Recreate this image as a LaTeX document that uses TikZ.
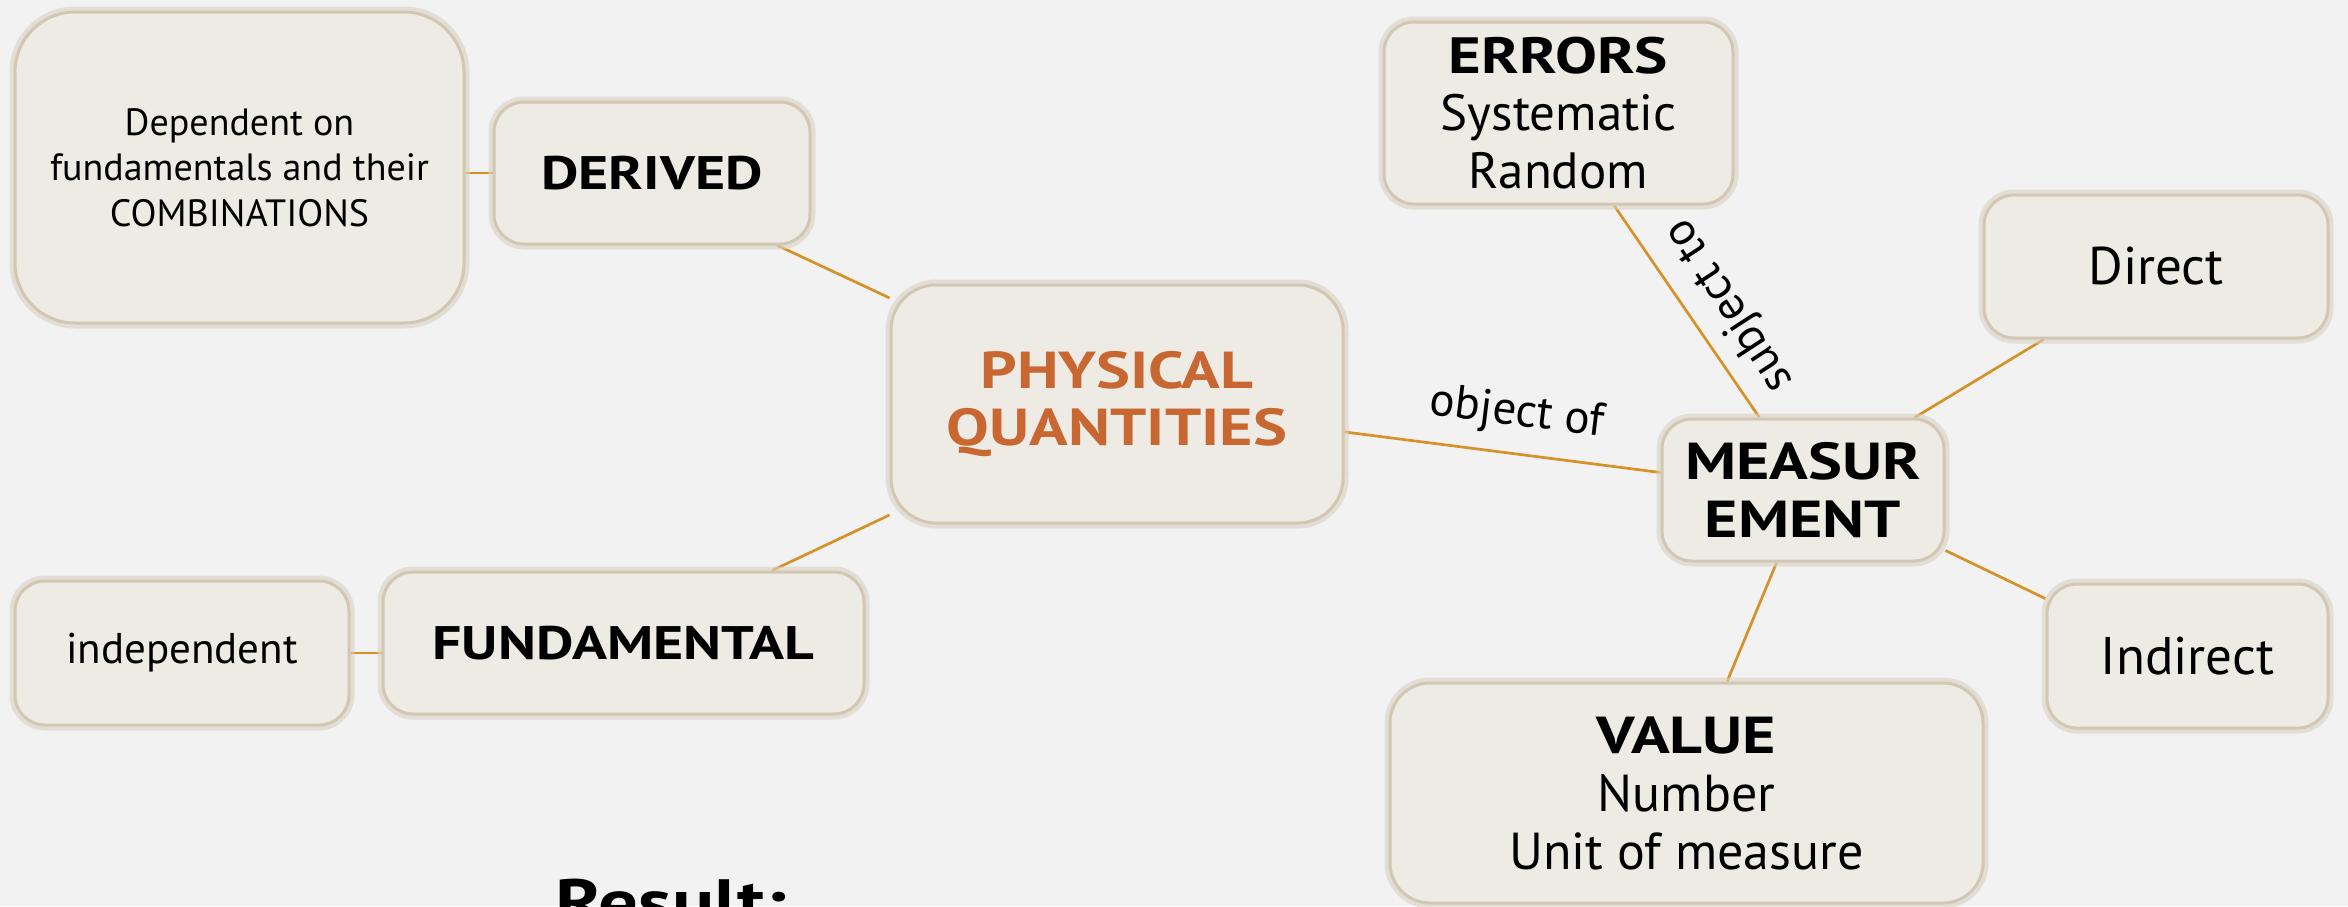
\documentclass[tikz,border=0pt]{standalone}
\usepackage{fontspec}
\setmainfont{PT Sans}[BoldFeatures={FakeStretch=1.23}]
\usetikzlibrary{calc,backgrounds}
\definecolor{bg}{RGB}{242,242,242}
\definecolor{boxfill}{RGB}{238,235,228}
\definecolor{boxedge}{RGB}{210,199,179}
\definecolor{link}{RGB}{214,146,40}
\definecolor{titlec}{RGB}{201,103,50}
\tikzset{
  card/.style={rectangle, rounded corners=#1, fill=boxfill, draw=boxedge,
    line width=3pt, preaction={draw=boxedge!75!bg, line width=11pt, opacity=0.6},
    align=center, inner sep=0pt},
  card/.default=30pt,
  conn/.style={draw=link, line width=2.7pt},
  lbl/.style={font=\fontsize{47}{50}\selectfont, inner sep=0pt},
}
\begin{document}
\begin{tikzpicture}[x=1pt,y=-1pt]
\useasboundingbox (0,0) rectangle (2348,906);
\clip (0,0) rectangle (2348,906);

\node[card=60pt, minimum width=449pt, minimum height=311pt,
  font=\fontsize{38}{45.7}\selectfont] (dep) at (239.5,167.5)
  {Dependent on\\fundamentals and their\\COMBINATIONS};
\node[card, minimum width=316pt, minimum height=142pt,
  font=\fontsize{47}{56}\selectfont\bfseries] (der) at (652,173) {DERIVED};
\node[card=45pt, minimum width=452pt, minimum height=238pt,
  font=\fontsize{52}{57}\selectfont\bfseries, text=titlec] (pq) at (1117,404)
  {PHYSICAL\\QUANTITIES};
\node[card, minimum width=334pt, minimum height=144pt,
  font=\fontsize{43}{50}\selectfont] (ind) at (182,653) {independent};
\node[card, minimum width=481pt, minimum height=142pt,
  font=\fontsize{47}{56}\selectfont\bfseries] (fun) at (623.5,643) {FUNDAMENTAL};
\node[card, minimum width=349pt, minimum height=182pt,
  font=\fontsize{51}{57.7}\selectfont] (err) at (1558.5,113)
  {\textbf{ERRORS}\\Systematic\\Random};
\node[card, minimum width=344pt, minimum height=143pt,
  font=\fontsize{53}{58}\selectfont] (dir) at (2156,266.5) {Direct};
\node[card, minimum width=282pt, minimum height=142pt,
  font=\fontsize{52}{58}\selectfont\bfseries] (mea) at (1803,490) {MEASUR\\EMENT};
\node[card, minimum width=281pt, minimum height=144pt,
  font=\fontsize{53}{58}\selectfont] (indr) at (2187.5,656) {Indirect};
\node[card=40pt, minimum width=593pt, minimum height=220pt,
  font=\fontsize{52}{58}\selectfont] (val) at (1686.5,793)
  {\textbf{VALUE}\\Number\\Unit of measure};

\node[anchor=base west, inner sep=0pt, font=\fontsize{64}{70}\selectfont\bfseries]
  (res) at (555,924) {Result:};

\begin{scope}[on background layer]
  \fill[bg] (0,0) rectangle (2348,906);
  \draw[conn] (der.west) -- (der.west -| dep.east);
  \draw[conn] (der.-30) -- (pq.155);
  \draw[conn] (fun.26) -- (pq.206);
  \draw[conn] (ind.east) -- (ind.east -| fun.west);
  \draw[conn] (pq.-7) -- (mea.173);
  \draw[conn] (err.-59) -- (mea.121);
  \draw[conn] (dir.213) -- (mea.33);
  \draw[conn] (indr.158) -- (mea.-23);
  \draw[conn] (mea.250) -- (val.70);
\end{scope}

\node[lbl, rotate=-7] (objof) at (1517,414) {object of};
\node[lbl, rotate=123] (subjto) at (1730,305) {subject to};
\end{tikzpicture}
\end{document}
